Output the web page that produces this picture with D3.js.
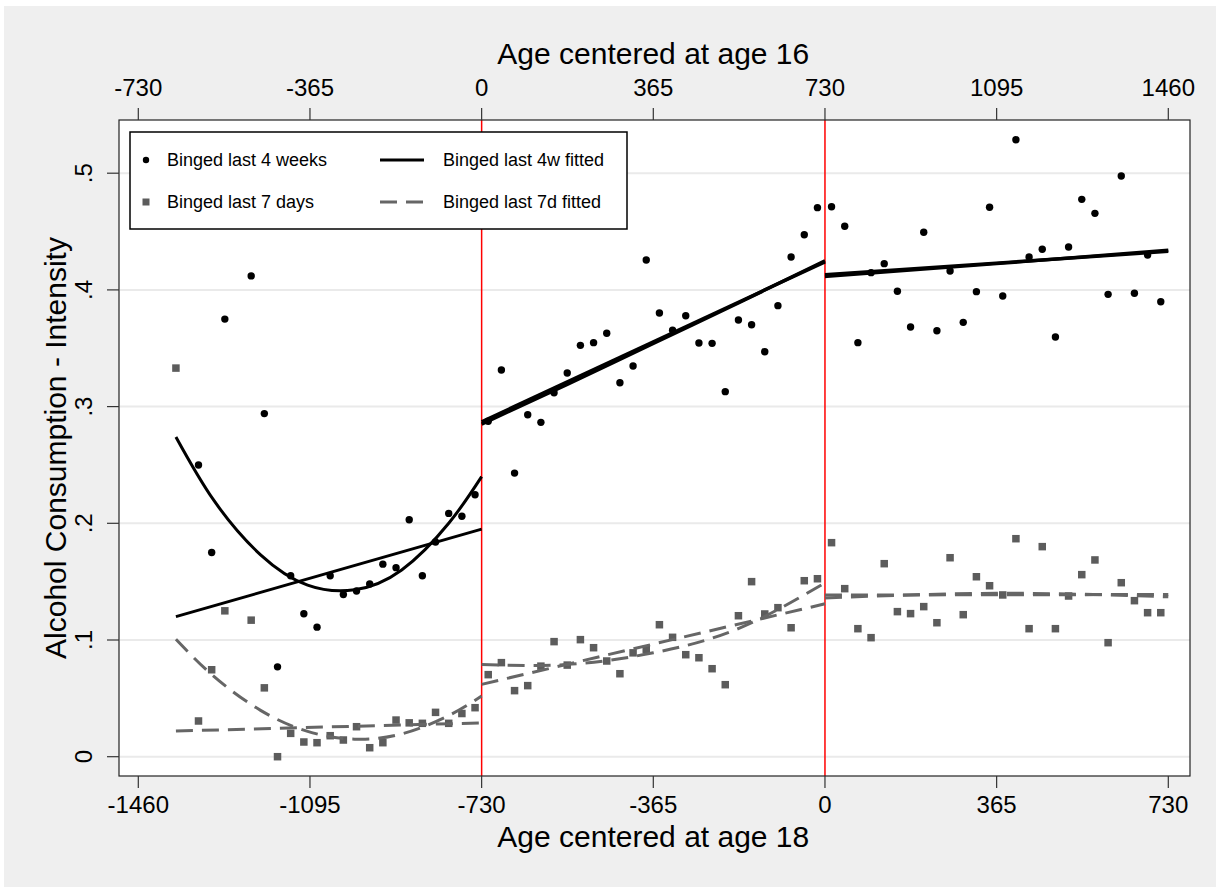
<!DOCTYPE html>
<html>
<head>
<meta charset="utf-8">
<script src="https://cdn.jsdelivr.net/npm/d3@7"></script>
<style>
  html, body { margin: 0; padding: 0; background: #ffffff; }
  svg { display: block; }
  text { font-family: "Liberation Sans", Arial, sans-serif; fill: #000; }
</style>
</head>
<body>
<svg id="chart" width="1216" height="887"></svg>
<script>
// ---------- DATA ----------
// x positions in days (age centered at 18)
const leftDays4w = [-1332,-1304,-1276,-1220,-1192,-1164,-1136,-1108,-1080,-1052,-1024,-996,-968,-940,-912,-884,-856,-828,-800,-772,-744];
const left4w     = [0.250,0.175,0.375,0.412,0.294,0.077,0.155,0.1225,0.111,0.155,0.139,0.142,0.148,0.165,0.162,0.203,0.155,0.184,0.2085,0.206,0.2245];
const leftDays7d = [-1380,-1332,-1304,-1276,-1220,-1192,-1164,-1136,-1108,-1080,-1052,-1024,-996,-968,-940,-912,-884,-856,-828,-800,-772,-744];
const left7d     = [0.333,0.0306,0.0745,0.125,0.117,0.059,0.000,0.020,0.0126,0.012,0.018,0.0143,0.0257,0.0077,0.012,0.0314,0.029,0.0286,0.038,0.0286,0.037,0.042];

const midDays = [-716,-688,-660,-632,-604,-576,-548,-520,-492,-464,-436,-408,-380,-352,-324,-296,-268,-240,-212,-184,-156,-128,-100,-72,-44,-16];
const mid4w   = [0.2875,0.3314,0.243,0.293,0.2865,0.3119,0.3288,0.3525,0.3548,0.3628,0.3205,0.3348,0.4256,0.3802,0.3654,0.3779,0.3545,0.3542,0.3128,0.3742,0.3702,0.347,0.3865,0.4282,0.4473,0.4705];
const mid7d   = [0.0703,0.0806,0.0566,0.0609,0.0776,0.0986,0.0785,0.1003,0.0934,0.082,0.0711,0.089,0.092,0.1131,0.1023,0.0874,0.0848,0.0754,0.0617,0.1208,0.15,0.1223,0.1277,0.1105,0.1508,0.1525];

const rightDays = [14,42,70,98,126,154,182,210,238,266,294,322,350,378,406,434,462,490,518,546,574,602,630,658,686,714];
const right4w   = [0.4713,0.4545,0.3548,0.4148,0.4225,0.3988,0.3682,0.4494,0.365,0.4162,0.3722,0.3985,0.4708,0.3948,0.5287,0.4282,0.4348,0.3597,0.4368,0.4776,0.4656,0.3962,0.4976,0.3971,0.4299,0.3899];
const right7d   = [0.1834,0.144,0.1097,0.102,0.1654,0.1243,0.1226,0.1286,0.1148,0.1705,0.1217,0.1542,0.1465,0.1386,0.1868,0.1097,0.18,0.1097,0.1377,0.156,0.1686,0.0977,0.1491,0.1337,0.1234,0.1234];

// fitted curves
const fit4wLinLeftX  = [-1380, -730];
const fit4wLinLeftY  = [0.120, 0.195];
const fit4wQuadLeftX = [-1380,-1300,-1200,-1100,-1000,-900,-800,-730];
const fit4wQuadLeftY = [0.274,0.220,0.173,0.147,0.143,0.160,0.200,0.240];
const fit4wLinMidX   = [-730, 0];
const fit4wLinMidY   = [0.287, 0.424];
const fit4wQuadMidX  = [-730,-548,-365,-183,0];
const fit4wQuadMidY  = [0.285,0.319,0.354,0.389,0.425];
const fit4wLinRightX = [0, 730];
const fit4wLinRightY = [0.413, 0.433];
const fit4wQuadRightX= [0, 365, 730];
const fit4wQuadRightY= [0.4115, 0.4225, 0.434];

const fit7dLinLeftX  = [-1380, -730];
const fit7dLinLeftY  = [0.022, 0.029];
const fit7dQuadLeftX = [-1380,-1300,-1200,-1100,-1000,-900,-800,-730];
const fit7dQuadLeftY = [0.1006,0.069,0.0397,0.0217,0.0150,0.0195,0.0352,0.052];
const fit7dLinMidX   = [-730, 0];
const fit7dLinMidY   = [0.062, 0.131];
const fit7dQuadMidX  = [-730,-548,-365,-183,0];
const fit7dQuadMidY  = [0.079,0.079,0.089,0.110,0.149];
const fit7dLinRightX = [0, 730];
const fit7dLinRightY = [0.1385, 0.1390];
const fit7dQuadRightX= [0, 365, 730];
const fit7dQuadRightY= [0.136, 0.140, 0.137];

const bottomTicks = [-1460,-1095,-730,-365,0,365,730];
const topTicks    = [-730,-365,0,365,730,1095,1460];
const yTicks      = [0,0.1,0.2,0.3,0.4,0.5];
const yTickLabels = ["0",".1",".2",".3",".4",".5"];
const cutoffs     = [-730, 0];

// ---------- LAYOUT ----------
const svg = d3.select("#chart");
const plot = {left: 119, right: 1190, top: 120, bottom: 776};

const x = d3.scaleLinear().domain([-1460, 730]).range([138.3, 1168.3]);
const xTop = d3.scaleLinear().domain([-730, 1460]).range([138.3, 1168.3]);
const y = d3.scaleLinear().domain([0, 0.5]).range([756.7, 173.2]);

// background
svg.append("rect").attr("x", 4).attr("y", 6).attr("width", 1212).attr("height", 881).attr("fill", "#efefef");
svg.append("rect").attr("x", plot.left).attr("y", plot.top)
  .attr("width", plot.right - plot.left).attr("height", plot.bottom - plot.top)
  .attr("fill", "#ffffff");

// gridlines
svg.append("g").selectAll("line").data(yTicks).join("line")
  .attr("x1", plot.left + 1).attr("x2", plot.right)
  .attr("y1", d => y(d)).attr("y2", d => y(d))
  .attr("stroke", "#eaeaea").attr("stroke-width", 2);

// cutoff lines
svg.append("g").selectAll("line").data(cutoffs).join("line")
  .attr("x1", d => x(d)).attr("x2", d => x(d))
  .attr("y1", plot.top).attr("y2", plot.bottom)
  .attr("stroke", "#ff0000").attr("stroke-width", 1.5);

// points
const sq = 7.5;
function squares(xs, ys) {
  svg.append("g").selectAll("rect").data(xs.map((d, i) => [d, ys[i]])).join("rect")
    .attr("x", d => x(d[0]) - sq / 2).attr("y", d => y(d[1]) - sq / 2)
    .attr("width", sq).attr("height", sq).attr("fill", "#5c5c5c");
}
function dots(xs, ys) {
  svg.append("g").selectAll("circle").data(xs.map((d, i) => [d, ys[i]])).join("circle")
    .attr("cx", d => x(d[0])).attr("cy", d => y(d[1])).attr("r", 3.7).attr("fill", "#000");
}
squares(leftDays7d, left7d);
squares(midDays, mid7d);
squares(rightDays, right7d);
dots(leftDays4w, left4w);
dots(midDays, mid4w);
dots(rightDays, right4w);

// fitted lines
const lineGen = d3.line().x(d => x(d[0])).y(d => y(d[1])).curve(d3.curveNatural);
function fit(xs, ys, color, width, dash) {
  svg.append("path").datum(xs.map((d, i) => [d, ys[i]]))
    .attr("d", lineGen).attr("fill", "none")
    .attr("stroke", color).attr("stroke-width", width)
    .attr("stroke-dasharray", dash || null);
}
const gray = "#666666";
const dash = "17,9";
fit(fit7dLinLeftX, fit7dLinLeftY, gray, 3, dash);
fit(fit7dQuadLeftX, fit7dQuadLeftY, gray, 3, dash);
fit(fit7dLinMidX, fit7dLinMidY, gray, 3, dash);
fit(fit7dQuadMidX, fit7dQuadMidY, gray, 3, dash);
fit(fit7dLinRightX, fit7dLinRightY, gray, 3, dash);
fit(fit7dQuadRightX, fit7dQuadRightY, gray, 3, dash);
fit(fit4wLinLeftX, fit4wLinLeftY, "#000", 3);
fit(fit4wQuadLeftX, fit4wQuadLeftY, "#000", 3);
fit(fit4wLinMidX, fit4wLinMidY, "#000", 3.4);
fit(fit4wQuadMidX, fit4wQuadMidY, "#000", 3.4);
fit(fit4wLinRightX, fit4wLinRightY, "#000", 3.4);
fit(fit4wQuadRightX, fit4wQuadRightY, "#000", 3.4);

// plot frame
svg.append("rect").attr("x", plot.left).attr("y", plot.top)
  .attr("width", plot.right - plot.left).attr("height", plot.bottom - plot.top)
  .attr("fill", "none").attr("stroke", "#222").attr("stroke-width", 1.2);

// axes
const axisColor = "#333";
// bottom
const gB = svg.append("g");
gB.selectAll("line").data(bottomTicks).join("line")
  .attr("x1", d => x(d)).attr("x2", d => x(d))
  .attr("y1", plot.bottom).attr("y2", plot.bottom + 12)
  .attr("stroke", axisColor).attr("stroke-width", 1.2);
gB.selectAll("text").data(bottomTicks).join("text")
  .attr("x", d => x(d)).attr("y", 805).attr("dy", "0.35em")
  .attr("text-anchor", "middle").attr("font-size", 24).text(d => d);
svg.append("text").attr("x", (x(-1460) + x(730)) / 2).attr("y", 836).attr("dy", "0.35em")
  .attr("text-anchor", "middle").attr("font-size", 30).text("Age centered at age 18");
// top
const gT = svg.append("g");
gT.selectAll("line").data(topTicks).join("line")
  .attr("x1", d => xTop(d)).attr("x2", d => xTop(d))
  .attr("y1", plot.top).attr("y2", plot.top - 12)
  .attr("stroke", axisColor).attr("stroke-width", 1.2);
gT.selectAll("text").data(topTicks).join("text")
  .attr("x", d => xTop(d)).attr("y", 88).attr("dy", "0.35em")
  .attr("text-anchor", "middle").attr("font-size", 24).text(d => d);
svg.append("text").attr("x", (xTop(-730) + xTop(1460)) / 2).attr("y", 53).attr("dy", "0.35em")
  .attr("text-anchor", "middle").attr("font-size", 30).text("Age centered at age 16");
// left
const gL = svg.append("g");
gL.selectAll("line").data(yTicks).join("line")
  .attr("x1", plot.left).attr("x2", plot.left - 12)
  .attr("y1", d => y(d)).attr("y2", d => y(d))
  .attr("stroke", axisColor).attr("stroke-width", 1.2);
gL.selectAll("text").data(yTicks).join("text")
  .attr("transform", d => `translate(84,${y(d)}) rotate(-90)`)
  .attr("dy", "0.35em").attr("text-anchor", "middle").attr("font-size", 24)
  .text((d, i) => yTickLabels[i]);
svg.append("text").attr("transform", `translate(55,${(plot.top + plot.bottom) / 2}) rotate(-90)`)
  .attr("dy", "0.35em").attr("text-anchor", "middle").attr("font-size", 30)
  .text("Alcohol Consumption - Intensity");

// legend
const lg = svg.append("g");
lg.append("rect").attr("x", 130).attr("y", 132).attr("width", 497).attr("height", 97)
  .attr("fill", "#fff").attr("stroke", "#000").attr("stroke-width", 1.5);
lg.append("circle").attr("cx", 146).attr("cy", 160).attr("r", 3.2).attr("fill", "#000");
lg.append("rect").attr("x", 142.5).attr("y", 198.5).attr("width", 7).attr("height", 7).attr("fill", "#5c5c5c");
lg.append("text").attr("x", 167).attr("y", 160).attr("dy", "0.35em").attr("font-size", 18).text("Binged last 4 weeks");
lg.append("text").attr("x", 167).attr("y", 202).attr("dy", "0.35em").attr("font-size", 18).text("Binged last 7 days");
lg.append("line").attr("x1", 380).attr("x2", 424).attr("y1", 160).attr("y2", 160)
  .attr("stroke", "#000").attr("stroke-width", 3);
lg.append("line").attr("x1", 380).attr("x2", 424).attr("y1", 202).attr("y2", 202)
  .attr("stroke", gray).attr("stroke-width", 3).attr("stroke-dasharray", dash);
lg.append("text").attr("x", 443).attr("y", 160).attr("dy", "0.35em").attr("font-size", 18).text("Binged last 4w fitted");
lg.append("text").attr("x", 443).attr("y", 202).attr("dy", "0.35em").attr("font-size", 18).text("Binged last 7d fitted");
</script>
</body>
</html>
